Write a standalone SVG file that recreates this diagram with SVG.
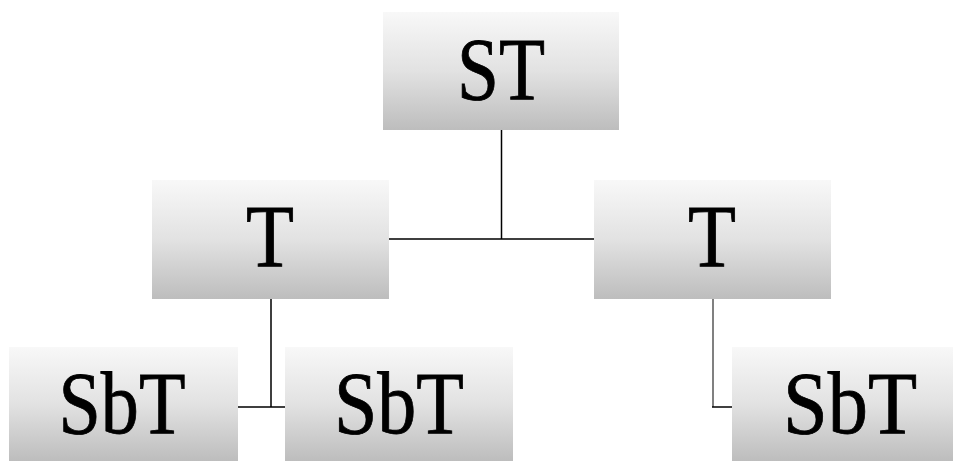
<svg xmlns="http://www.w3.org/2000/svg" width="953" height="461" viewBox="0 0 953 461">
<defs>
<linearGradient id="g" x1="0" y1="0" x2="0" y2="1">
<stop offset="0" stop-color="#f8f8f8"/>
<stop offset="0.5" stop-color="#e2e2e2"/>
<stop offset="1" stop-color="#bdbdbd"/>
</linearGradient>
</defs>
<style>
.box{fill:url(#g);}
.lbl{font-family:"Liberation Serif","Times New Roman",serif;font-size:88px;fill:#000;stroke:#000;stroke-width:0.8;text-anchor:middle;}
.ln{stroke:#000;stroke-width:1.5;fill:none;}
.lg{stroke:#808080;stroke-width:2;fill:none;}
</style>
<rect width="953" height="461" fill="#fff"/>
<g id="connectors">
<path class="ln" d="M501.5 130 V239 M389 239 H594"/>
<path class="ln" d="M271 299 V407 M238 407 H285"/>
<path class="lg" d="M713 299 V407"/>
<path class="ln" d="M712 407 H732"/>
</g>
<g id="st">
<rect class="box" x="383" y="12" width="236" height="118"/>
<text class="lbl" x="501" y="99" textLength="88" lengthAdjust="spacingAndGlyphs">ST</text>
</g>
<g id="t-left">
<rect class="box" x="152" y="180" width="237" height="119"/>
<text class="lbl" x="270" y="266" textLength="48" lengthAdjust="spacingAndGlyphs">T</text>
</g>
<g id="t-right">
<rect class="box" x="594" y="180" width="237" height="119"/>
<text class="lbl" x="712" y="266" textLength="48" lengthAdjust="spacingAndGlyphs">T</text>
</g>
<g id="sbt-1">
<rect class="box" x="9" y="347" width="229" height="114"/>
<text class="lbl" x="122" y="433" textLength="127" lengthAdjust="spacingAndGlyphs">SbT</text>
</g>
<g id="sbt-2">
<rect class="box" x="285" y="347" width="228" height="114"/>
<text class="lbl" x="399" y="433" textLength="130" lengthAdjust="spacingAndGlyphs">SbT</text>
</g>
<g id="sbt-3">
<rect class="box" x="732" y="347" width="229" height="114"/>
<text class="lbl" x="850" y="433" textLength="134" lengthAdjust="spacingAndGlyphs">SbT</text>
</g>
</svg>
